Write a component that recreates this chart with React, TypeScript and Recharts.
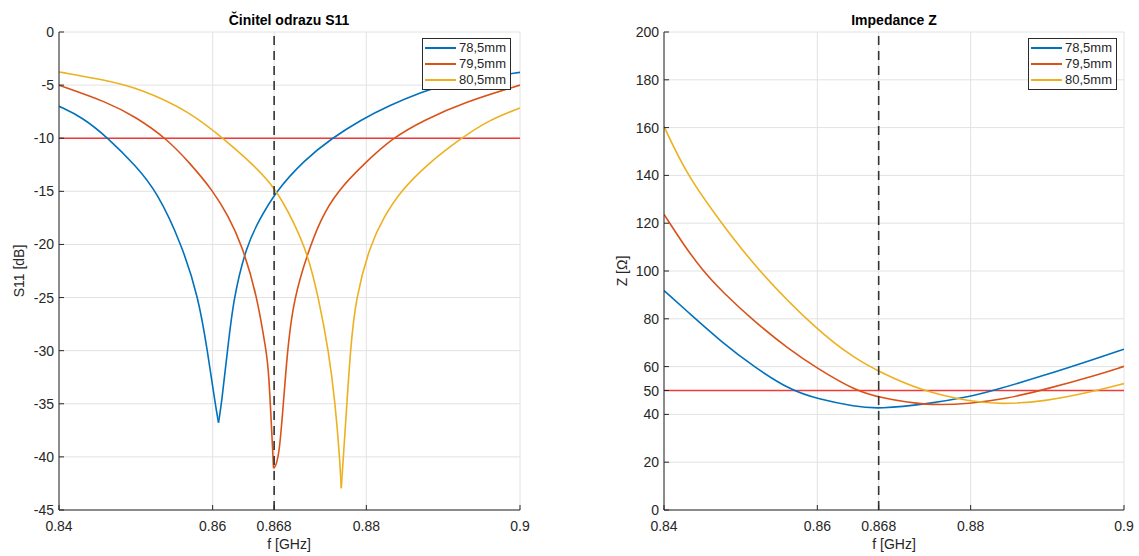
import React from 'react';
import { LineChart, Line, XAxis, YAxis, CartesianGrid, ReferenceLine } from 'recharts';

// ---------- labels / ticks ----------
const seriesNames = ['78,5mm', '79,5mm', '80,5mm'];
const seriesColors = ['#0072BD', '#D95319', '#EDB120'];
const xTicks = [0.84, 0.86, 0.868, 0.88, 0.9];
const s11Ticks = [-45, -40, -35, -30, -25, -20, -15, -10, -5, 0];
const zTicks = [0, 20, 40, 50, 60, 80, 100, 120, 140, 160, 180, 200];
const markerFreq = 0.868;
const s11Limit = -10;
const zRef = 50;

// ---------- S11 [dB] ----------
const s11BlueF = [0.84, 0.843, 0.84643, 0.85, 0.85273, 0.85598, 0.85815, 0.85932, 0.86033, 0.86076,
  0.86115, 0.86193, 0.86271, 0.86446, 0.866, 0.8681, 0.872, 0.87553, 0.87922, 0.883, 0.8874, 0.89, 0.895, 0.9];
const s11BlueV = [-6.99, -8.0, -10, -12.6, -15, -20, -25, -30, -35, -36.78,
  -35, -30, -25, -20, -17.8, -15.1, -12.0, -10, -8.3, -6.9, -5.6, -5.0, -4.3, -3.8];

const s11RedF = [0.84, 0.84621, 0.85, 0.85394, 0.857, 0.8601, 0.862, 0.8638, 0.86584, 0.86693, 0.86727, 0.86792,
  0.8687, 0.86966, 0.8706, 0.87235, 0.874, 0.87618, 0.88, 0.88335, 0.88747, 0.8928, 0.9];
const s11RedV = [-5.01, -6.58, -8.0, -10, -12.3, -15, -17.3, -20, -25, -30, -31.35, -41.07,
  -40.45, -30, -25, -20.85, -17.7, -15, -12.2, -10, -8.3, -6.6, -5.0];

const s11YellowF = [0.84, 0.8455, 0.85055, 0.85707, 0.86133, 0.865, 0.8681, 0.8705, 0.87235, 0.87378, 0.87509, 0.87596, 0.87652, 0.87674,
  0.87701, 0.87747, 0.87792, 0.87861, 0.88052, 0.8823, 0.88443, 0.888, 0.89234, 0.89594, 0.9];
const s11YellowV = [-3.76, -4.45, -5.3, -7.52, -10, -12.3, -14.6, -17.8, -20.85, -25, -30, -35, -40, -42.95,
  -40, -35, -30, -25, -20, -17.4, -15, -12.4, -10, -8.3, -7.15];

// ---------- Z [Ohm] ----------
const zBlueF = [0.84, 0.84314, 0.8475, 0.85186, 0.85656, 0.86005, 0.86493, 0.8681, 0.8743, 0.88, 0.883, 0.8895, 0.8963, 0.9];
const zBlueV = [91.8, 82.8, 70.3, 59.6, 50, 46.5, 43.2, 42.3, 44.3, 47.5, 50, 56.2, 63.3, 67.3];

const zRedF = [0.84, 0.8425, 0.845, 0.8475, 0.85186, 0.85621, 0.86, 0.86493, 0.8681, 0.8743, 0.88, 0.8845, 0.8892, 0.8963, 0.9];
const zRedV = [123.7, 111.3, 100.3, 91.6, 78.6, 67.5, 59.2, 50, 47.0, 43.6, 44.5, 46.5, 50, 56.3, 60.1];

const zYellowF = [0.84, 0.843, 0.8475, 0.8523, 0.86, 0.86493, 0.8681, 0.87342, 0.88, 0.88388, 0.88954, 0.8963, 0.9];
const zYellowV = [160.5, 140, 120, 100, 75.1, 63.3, 57.8, 50, 45.3, 44.3, 45.3, 49.8, 52.9];

// ---------- helpers ----------
type Pt = { f: number; v: number };
const zip = (f: number[], v: number[]): Pt[] => f.map((x, i) => ({ f: x, v: v[i] }));
const splitAtMin = (pts: Pt[]): [Pt[], Pt[]] => {
  let idx = 0;
  pts.forEach((p, i) => { if (p.v < pts[idx].v) idx = i; });
  return [pts.slice(0, idx + 1), pts.slice(idx)];
};

const s11Series = [zip(s11BlueF, s11BlueV), zip(s11RedF, s11RedV), zip(s11YellowF, s11YellowV)].map(splitAtMin);
const zSeries = [zip(zBlueF, zBlueV), zip(zRedF, zRedV), zip(zYellowF, zYellowV)];

const FONT = "'Liberation Sans', Arial, Helvetica, sans-serif";
const AXIS = '#262626';
const GRID = '#e2e2e2';

const XTick = (props: any) => {
  const { x, y, payload } = props;
  return (
    <g>
      <line x1={x} x2={x} y1={y} y2={y - 5} stroke={AXIS} strokeWidth={1} />
      <text x={x} y={y + 21} textAnchor="middle" fontSize={14} fontFamily={FONT} fill={AXIS}>
        {String(payload.value)}
      </text>
    </g>
  );
};

const YTick = (props: any) => {
  const { x, y, payload } = props;
  return (
    <g>
      <line x1={x} x2={x + 5} y1={y} y2={y} stroke={AXIS} strokeWidth={1} />
      <text x={x - 5} y={y} dy="0.36em" textAnchor="end" fontSize={14} fontFamily={FONT} fill={AXIS}>
        {String(payload.value)}
      </text>
    </g>
  );
};

const LegendBox = ({ left, top }: { left: number; top: number }) => (
  <div
    style={{
      position: 'absolute', left, top, width: 87, height: 50,
      border: '1px solid #2a2a2a', background: '#fff', fontFamily: FONT, fontSize: 13, color: AXIS,
    }}
  >
    {seriesNames.map((n, i) => (
      <div key={n} style={{ position: 'absolute', left: 0, top: 1 + i * 16, height: 16, width: 87, display: 'flex', alignItems: 'center' }}>
        <div style={{ marginLeft: 2, width: 31, height: 2, background: seriesColors[i] }} />
        <span style={{ marginLeft: 3, lineHeight: '16px' }}>{n}</span>
      </div>
    ))}
  </div>
);

const TextLayer = () => (
  <svg width={1139} height={556} style={{ position: 'absolute', left: 0, top: 0, pointerEvents: 'none' }}>
    <text x={289} y={25} textAnchor="middle" fontSize={14} fontWeight="bold" fontFamily={FONT} fill="#000">Činitel odrazu S11</text>
    <text x={894} y={25} textAnchor="middle" fontSize={14} fontWeight="bold" fontFamily={FONT} fill="#000">Impedance Z</text>
    <text x={289} y={549} textAnchor="middle" fontSize={14} fontFamily={FONT} fill={AXIS}>f [GHz]</text>
    <text x={894} y={549} textAnchor="middle" fontSize={14} fontFamily={FONT} fill={AXIS}>f [GHz]</text>
    <text x={19} y={271} dy="0.36em" textAnchor="middle" fontSize={14} fontFamily={FONT} fill={AXIS} transform="rotate(-90 19 271)">S11 [dB]</text>
    <text x={622} y={271} dy="0.36em" textAnchor="middle" fontSize={14} fontFamily={FONT} fill={AXIS} transform="rotate(-90 622 271)">Z [Ω]</text>
  </svg>
);

export default function App() {
  return (
    <div style={{ position: 'absolute', left: 0, top: 0, width: 1139, height: 556, background: '#fff', overflow: 'hidden' }}>
      <div style={{ position: 'absolute', left: 0, top: 0 }}>
        <LineChart width={560} height={556} margin={{ top: 32, right: 40, bottom: 0, left: 0 }}>
          <CartesianGrid stroke={GRID} strokeWidth={1} />
          <XAxis type="number" dataKey="f" domain={[0.84, 0.9]} ticks={xTicks} allowDataOverflow
            height={46} tickSize={0} tickMargin={0} tickLine={false} axisLine={{ stroke: AXIS }} tick={<XTick />} interval={0} />
          <YAxis type="number" domain={[-45, 0]} ticks={s11Ticks} allowDataOverflow
            width={59} tickSize={0} tickMargin={0} tickLine={false} axisLine={{ stroke: AXIS }} tick={<YTick />} interval={0} />
          <ReferenceLine y={s11Limit} stroke="#f03a3a" strokeWidth={1.6} />
          {s11Series.map((branches, i) =>
            branches.map((pts, j) => (
              <Line key={`s${i}-${j}`} data={pts} dataKey="v" type="basis" stroke={seriesColors[i]}
                strokeWidth={1.6} dot={false} isAnimationActive={false} />
            ))
          )}
          <ReferenceLine x={markerFreq} stroke="#333" strokeWidth={1.6} strokeDasharray="9 6" />
        </LineChart>
      </div>
      <div style={{ position: 'absolute', left: 570, top: 0 }}>
        <LineChart width={569} height={556} margin={{ top: 32, right: 15, bottom: 0, left: 0 }}>
          <CartesianGrid stroke={GRID} strokeWidth={1} />
          <XAxis type="number" dataKey="f" domain={[0.84, 0.9]} ticks={xTicks} allowDataOverflow
            height={46} tickSize={0} tickMargin={0} tickLine={false} axisLine={{ stroke: AXIS }} tick={<XTick />} interval={0} />
          <YAxis type="number" domain={[0, 200]} ticks={zTicks} allowDataOverflow
            width={94} tickSize={0} tickMargin={0} tickLine={false} axisLine={{ stroke: AXIS }} tick={<YTick />} interval={0} />
          <ReferenceLine y={zRef} stroke="#f03a3a" strokeWidth={1.6} />
          {zSeries.map((pts, i) => (
            <Line key={`z${i}`} data={pts} dataKey="v" type="basis" stroke={seriesColors[i]}
              strokeWidth={1.6} dot={false} isAnimationActive={false} />
          ))}
          <ReferenceLine x={markerFreq} stroke="#333" strokeWidth={1.6} strokeDasharray="9 6" />
        </LineChart>
      </div>
      <TextLayer />
      <LegendBox left={422} top={38} />
      <LegendBox left={1028} top={38} />
    </div>
  );
}
